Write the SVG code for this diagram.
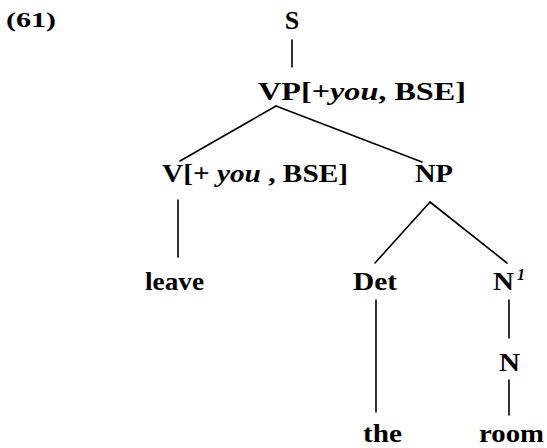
<svg xmlns="http://www.w3.org/2000/svg" width="547" height="448" viewBox="0 0 547 448">
  <style>
    .lbl { font-family: "Liberation Serif", "Times New Roman", serif; font-weight: bold; font-size: 26px; fill: #000; }
    .it { font-style: italic; }
    .num { font-family: "Liberation Serif", "Times New Roman", serif; font-weight: bold; font-size: 22px; fill: #000; }
    .sup { font-family: "Liberation Serif", "Times New Roman", serif; font-weight: bold; font-style: italic; font-size: 16px; fill: #000; }
    .edge { stroke: #000; stroke-width: 1.6; fill: none; stroke-linecap: round; }
  </style>
  <rect width="547" height="448" fill="#fff"/>

  <text class="num" x="6" y="27" textLength="50" lengthAdjust="spacingAndGlyphs">(61)</text>

  <g id="connectors">
    <line class="edge" x1="292" y1="40" x2="292" y2="67"/>
    <line class="edge" x1="276" y1="106" x2="180" y2="161"/>
    <line class="edge" x1="276" y1="106" x2="422" y2="162"/>
    <line class="edge" x1="178" y1="200" x2="178" y2="257"/>
    <line class="edge" x1="430" y1="202" x2="375" y2="263"/>
    <line class="edge" x1="430" y1="202" x2="507" y2="263"/>
    <line class="edge" x1="376" y1="300" x2="376" y2="412"/>
    <line class="edge" x1="509" y1="300" x2="509" y2="338"/>
    <line class="edge" x1="509" y1="380" x2="509" y2="415"/>
  </g>

  <g id="node-S">
    <text class="lbl" x="292" y="29" text-anchor="middle">S</text>
  </g>
  <g id="node-VP">
    <text class="lbl" x="258" y="100" textLength="208" lengthAdjust="spacingAndGlyphs">VP[+<tspan class="it">you</tspan>,  BSE]</text>
  </g>
  <g id="node-V">
    <text class="lbl" x="162" y="182" textLength="186" lengthAdjust="spacingAndGlyphs">V[+ <tspan class="it">you</tspan> , BSE]</text>
  </g>
  <g id="node-NP">
    <text class="lbl" x="415" y="182" textLength="38" lengthAdjust="spacingAndGlyphs">NP</text>
  </g>
  <g id="node-leave">
    <text class="lbl" x="145" y="290" textLength="59" lengthAdjust="spacingAndGlyphs">leave</text>
  </g>
  <g id="node-Det">
    <text class="lbl" x="353" y="290" textLength="44" lengthAdjust="spacingAndGlyphs">Det</text>
  </g>
  <g id="node-N1">
    <text class="lbl" x="493" y="290" textLength="21" lengthAdjust="spacingAndGlyphs">N</text>
    <text class="sup" x="517" y="280">1</text>
  </g>
  <g id="node-N">
    <text class="lbl" x="499" y="371" textLength="21" lengthAdjust="spacingAndGlyphs">N</text>
  </g>
  <g id="node-the">
    <text class="lbl" x="363" y="442" textLength="39" lengthAdjust="spacingAndGlyphs">the</text>
  </g>
  <g id="node-room">
    <text class="lbl" x="479" y="442" textLength="65" lengthAdjust="spacingAndGlyphs">room</text>
  </g>
</svg>
